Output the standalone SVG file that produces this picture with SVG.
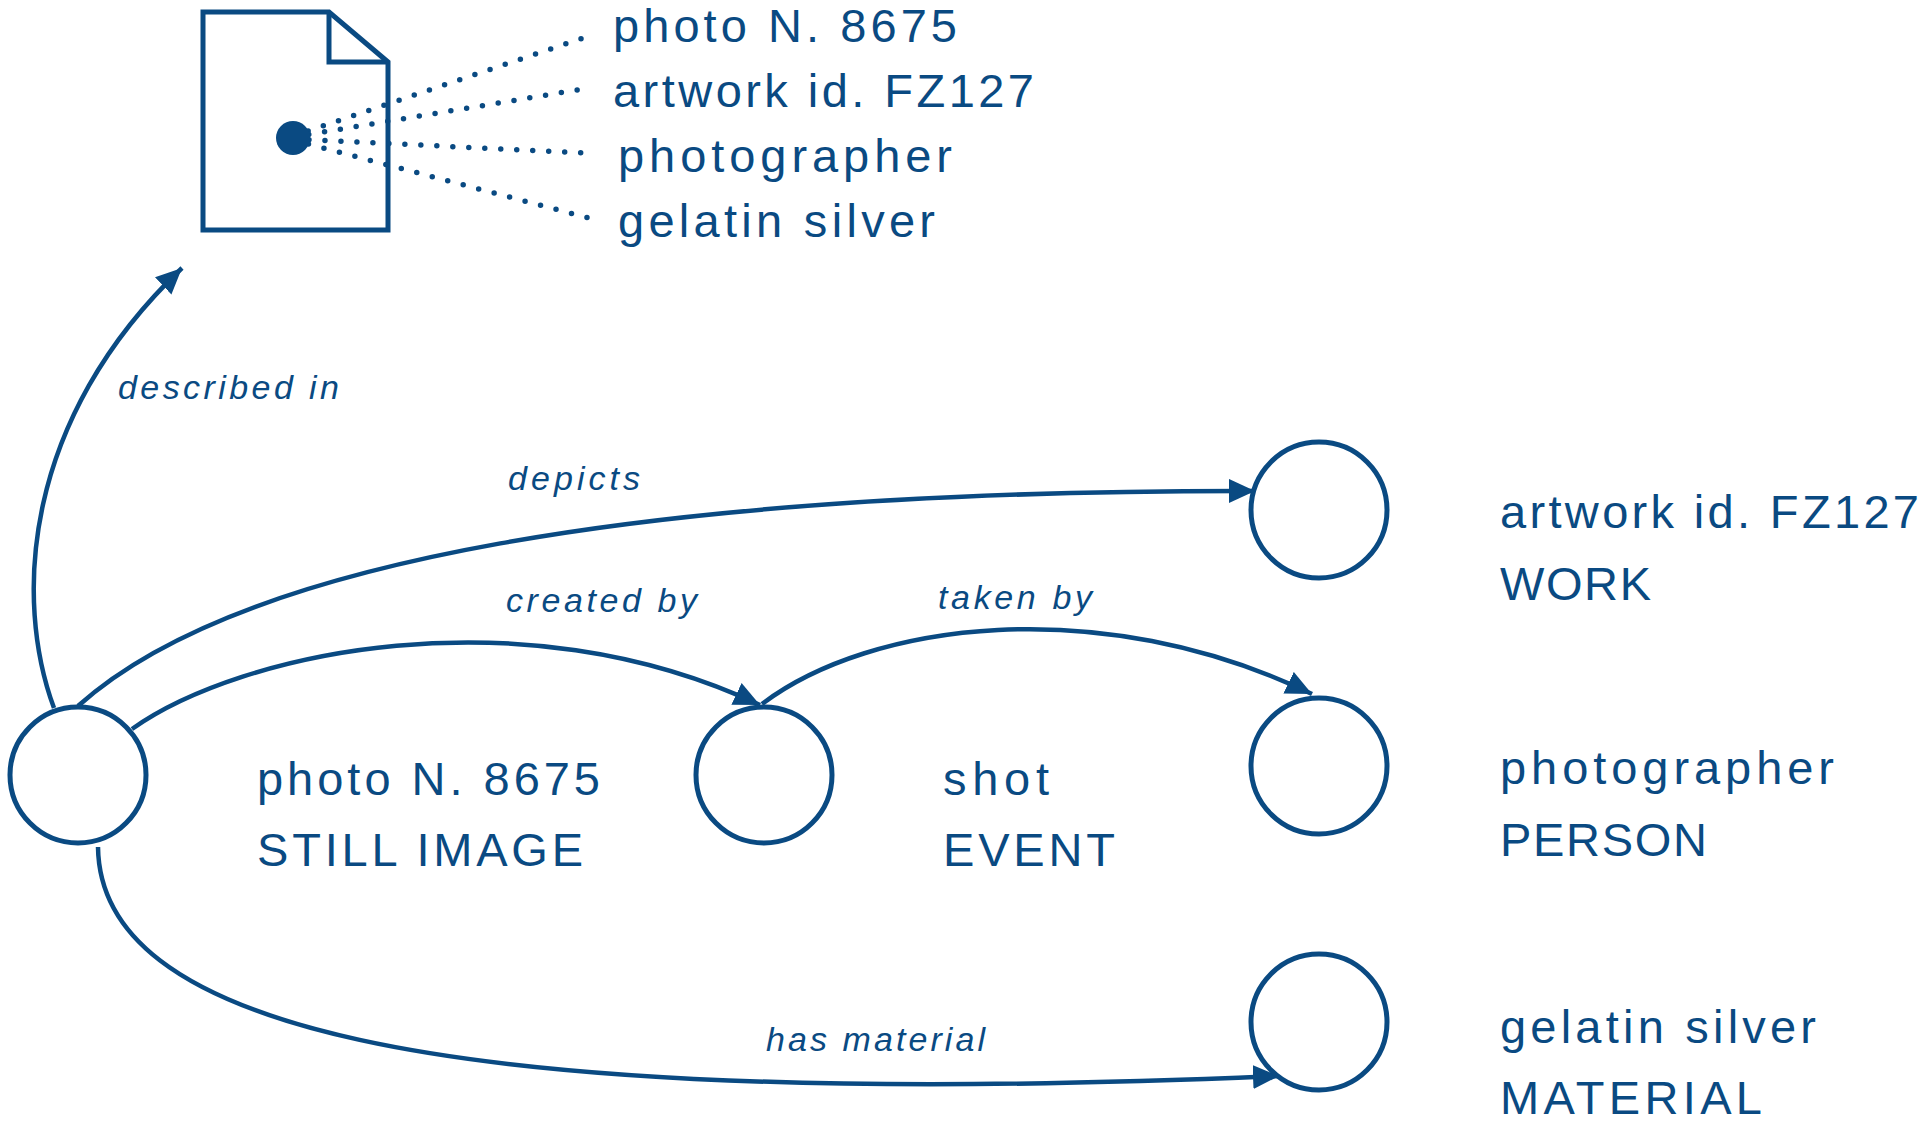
<svg xmlns="http://www.w3.org/2000/svg" width="1921" height="1121" viewBox="0 0 1921 1121">
<defs>
<style>
.ln{fill:none;stroke:#0a4a82;stroke-width:4.5}
.nd{fill:#fff;stroke:#0a4a82;stroke-width:5}
.dot{fill:none;stroke:#0a4a82;stroke-width:5.5;stroke-linecap:round;stroke-dasharray:0 16}
.t{font-family:"Liberation Sans",Arial,sans-serif;font-size:47px;fill:#0a4a82}
.lb{font-family:"Liberation Sans",Arial,sans-serif;font-size:34px;font-style:italic;fill:#0a4a82}
</style>
<marker id="ah" markerUnits="userSpaceOnUse" markerWidth="28" markerHeight="26" refX="26" refY="12" orient="auto">
<path d="M0,0 L26,12 L0,24 z" fill="#0a4a82"/>
</marker>
</defs>
<rect width="1921" height="1121" fill="#fff"/>

<g id="document">
<path class="nd" d="M203,12 L329,12 L388,62 L388,230 L203,230 Z"/>
<path class="ln" style="stroke-width:5" d="M329,12 L329,62 L388,62"/>
<g id="fields">
<path class="dot" d="M293,136 L586,37"/>
<path class="dot" d="M293,137 L589,88"/>
<path class="dot" d="M293,139 L586,153"/>
<path class="dot" d="M293,140 L589,218"/>
</g>
<circle cx="293" cy="138" r="17" fill="#0a4a82"/>
<text class="t" x="613" y="42" textLength="344" lengthAdjust="spacing">photo N. 8675</text>
<text class="t" x="613" y="107" textLength="421" lengthAdjust="spacing">artwork id. FZ127</text>
<text class="t" x="618" y="172" textLength="334" lengthAdjust="spacing">photographer</text>
<text class="t" x="618" y="237" textLength="317" lengthAdjust="spacing">gelatin silver</text>
</g>

<g id="connectors">
<path class="ln" marker-end="url(#ah)" d="M54,708 C14,600 22,420 182,268"/>
<path class="ln" marker-end="url(#ah)" d="M78,706 C240,560 650,490 1255,491"/>
<path class="ln" marker-end="url(#ah)" d="M132,729 C240,652 520,592 760,705"/>
<path class="ln" marker-end="url(#ah)" d="M762,704 C870,622 1100,592 1312,694"/>
<path class="ln" marker-end="url(#ah)" d="M98,847 C100,1018 400,1114 1279,1076"/>
<text class="lb" x="118" y="399" textLength="221" lengthAdjust="spacing">described in</text>
<text class="lb" x="508" y="490" textLength="132" lengthAdjust="spacing">depicts</text>
<text class="lb" x="506" y="612" textLength="191" lengthAdjust="spacing">created by</text>
<text class="lb" x="938" y="609" textLength="154" lengthAdjust="spacing">taken by</text>
<text class="lb" x="766" y="1051" textLength="219" lengthAdjust="spacing">has material</text>
</g>

<g id="still-image">
<circle class="nd" cx="78" cy="775" r="68"/>
<text class="t" x="257" y="795" textLength="343" lengthAdjust="spacing">photo N. 8675</text>
<text class="t" x="257" y="866" textLength="326" lengthAdjust="spacing">STILL IMAGE</text>
</g>
<g id="event">
<circle class="nd" cx="764" cy="775" r="68"/>
<text class="t" x="943" y="795" textLength="106" lengthAdjust="spacing">shot</text>
<text class="t" x="943" y="866" textLength="172" lengthAdjust="spacing">EVENT</text>
</g>
<g id="work">
<circle class="nd" cx="1319" cy="510" r="68"/>
<text class="t" x="1500" y="528" textLength="419" lengthAdjust="spacing">artwork id. FZ127</text>
<text class="t" x="1500" y="600" textLength="151" lengthAdjust="spacing">WORK</text>
</g>
<g id="person">
<circle class="nd" cx="1319" cy="766" r="68"/>
<text class="t" x="1500" y="784" textLength="334" lengthAdjust="spacing">photographer</text>
<text class="t" x="1500" y="856" textLength="207" lengthAdjust="spacing">PERSON</text>
</g>
<g id="material">
<circle class="nd" cx="1319" cy="1022" r="68"/>
<text class="t" x="1500" y="1043" textLength="316" lengthAdjust="spacing">gelatin silver</text>
<text class="t" x="1500" y="1114" textLength="262" lengthAdjust="spacing">MATERIAL</text>
</g>
</svg>
